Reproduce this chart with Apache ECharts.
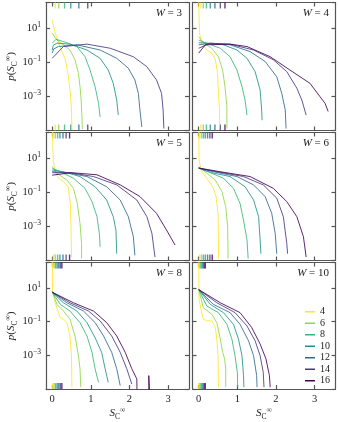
<!DOCTYPE html>
<html>
<head>
<meta charset="utf-8">
<script src="https://cdn.jsdelivr.net/npm/echarts@6/dist/echarts.min.js"></script>
<style>
html, body { margin: 0; padding: 0; background: #fff; }
#chart { width: 338px; height: 422px; }
</style>
</head>
<body>
<div id="chart"></div>
<script>
// system sizes (legend) and disorder strengths (one panel each)
var sizes = ['4', '6', '8', '10', '12', '14', '16'];
var disorder = [3, 4, 5, 6, 8, 10];
var xTicks = [0, 1, 2, 3];
var colors = ['#fde725', '#90d743', '#35b779', '#21918c', '#31688e', '#443983', '#440154'];

// p(S) curves, [S, p] per size
var w3 = [
    [[0, 31], [0.08, 5.1], [0.2, 0.83], [0.34, 0.14], [0.42, 0.014], [0.47, 0.0015], [0.5, 0.00016], [0.51, 0.000012]],
    [[0, 5.1], [0.12, 2.0], [0.29, 1.05], [0.46, 0.52], [0.59, 0.14], [0.68, 0.022], [0.72, 0.0037], [0.75, 0.00063], [0.77, 0.000063], [0.78, 0.000012]],
    [[0, 1.3], [0.1, 2.2], [0.38, 1.4], [0.64, 0.83], [0.85, 0.21], [0.98, 0.035], [1.11, 0.0037], [1.2, 0.00039], [1.24, 0.000063]],
    [[0, 0.52], [0.03, 1.0], [0.12, 1.3], [0.46, 1.15], [0.9, 0.52], [1.24, 0.17], [1.45, 0.035], [1.58, 0.0058], [1.67, 0.0006], [1.71, 0.00008]],
    [[0, 0.34], [0.04, 0.6], [0.16, 0.83], [0.64, 1.05], [1.24, 0.52], [1.67, 0.17], [1.97, 0.045], [2.14, 0.0091], [2.23, 0.0015], [2.27, 0.00016], [2.32, 0.000016]],
    [[0, 0.17], [0.29, 0.83], [0.9, 1.15], [1.5, 0.66], [2.1, 0.21], [2.45, 0.055], [2.7, 0.0091], [2.83, 0.0015], [2.87, 0.00016], [2.89, 0.000013]],
    null
];
var w4 = [
    [[0, 500], [0.02, 5.1], [0.08, 1.3], [0.21, 0.52], [0.34, 0.34], [0.43, 0.14], [0.49, 0.022], [0.51, 0.0015], [0.54, 0.00016], [0.54, 0.000016]],
    [[0, 3.2], [0.12, 1.4], [0.34, 0.66], [0.51, 0.21], [0.62, 0.035], [0.68, 0.0037], [0.73, 0.00025], [0.73, 0.000013]],
    [[0, 2.0], [0.21, 1.3], [0.56, 0.66], [0.81, 0.21], [0.99, 0.035], [1.12, 0.0037], [1.2, 0.0006], [1.25, 0.00008]],
    [[0, 1.4], [0.25, 1.3], [0.64, 1.05], [0.99, 0.52], [1.25, 0.17], [1.46, 0.028], [1.59, 0.0023], [1.63, 0.00016], [1.64, 0.00004]],
    [[0, 1.05], [0.3, 1.3], [0.81, 1.05], [1.33, 0.42], [1.72, 0.11], [2.02, 0.014], [2.15, 0.0015], [2.24, 0.00016], [2.26, 0.000013]],
    [[0, 0.66], [0.3, 1.3], [0.81, 1.15], [1.42, 0.52], [1.93, 0.14], [2.28, 0.028], [2.54, 0.003], [2.67, 0.0006], [2.78, 0.00008]],
    [[0, 0.34], [0.17, 1.05], [0.81, 1.15], [1.25, 0.83], [1.85, 0.21], [2.36, 0.035], [2.88, 0.0058], [3.14, 0.00095], [3.27, 0.00039], [3.35, 0.00013]]
];
var w5 = [
    [[0, 1000], [0.03, 6.3], [0.08, 1.6], [0.16, 0.66], [0.29, 0.42], [0.41, 0.21], [0.47, 0.022], [0.49, 0.0006], [0.5, 0.000016]],
    [[0, 3.2], [0.12, 1.3], [0.38, 0.52], [0.55, 0.17], [0.65, 0.022], [0.72, 0.0015], [0.76, 0.0001], [0.76, 0.000013]],
    [[0, 2.6], [0.21, 1.6], [0.55, 0.66], [0.85, 0.17], [1.03, 0.028], [1.16, 0.0037], [1.22, 0.00039], [1.24, 0.000063]],
    [[0, 2.0], [0.29, 1.6], [0.72, 0.83], [1.11, 0.21], [1.41, 0.035], [1.58, 0.0037], [1.65, 0.0006], [1.67, 0.000025]],
    [[0, 1.6], [0.38, 1.4], [0.9, 0.83], [1.41, 0.21], [1.76, 0.035], [1.97, 0.0037], [2.1, 0.00025], [2.14, 0.00002]],
    [[0, 1.4], [0.46, 1.4], [1.07, 0.83], [1.67, 0.27], [2.19, 0.035], [2.45, 0.0037], [2.58, 0.00039], [2.66, 0.000016]],
    [[0, 1.0], [0.5, 1.4], [1.16, 1.05], [1.76, 0.27], [2.27, 0.056], [2.7, 0.0058], [2.96, 0.0006], [3.18, 0.00008]]
];
var w6 = [
    [[0, 1000], [0.01, 7.9], [0.06, 2.0], [0.17, 0.83], [0.3, 0.34], [0.38, 0.17], [0.45, 0.055], [0.5, 0.0058], [0.51, 0.00025], [0.51, 0.000013]],
    [[0, 3.2], [0.21, 1.3], [0.43, 0.52], [0.6, 0.11], [0.7, 0.014], [0.75, 0.00095], [0.76, 0.000013]],
    [[0, 2.6], [0.3, 1.4], [0.64, 0.66], [0.9, 0.17], [1.07, 0.022], [1.16, 0.0023], [1.25, 0.00016], [1.28, 0.000013]],
    [[0, 2.6], [0.34, 1.4], [0.81, 0.83], [1.2, 0.21], [1.42, 0.035], [1.55, 0.0037], [1.59, 0.00016], [1.61, 0.000025]],
    [[0, 2.6], [0.38, 1.6], [0.99, 0.83], [1.42, 0.27], [1.72, 0.055], [1.89, 0.0058], [1.98, 0.00039], [2.02, 0.000025]],
    [[0, 2.6], [0.47, 1.6], [1.16, 0.83], [1.67, 0.27], [2.02, 0.045], [2.19, 0.0037], [2.28, 0.0001], [2.3, 0.000025]],
    [[0, 2.6], [0.55, 1.6], [1.33, 0.83], [1.93, 0.17], [2.28, 0.028], [2.54, 0.0037], [2.71, 0.00025], [2.78, 0.000016]]
];
var w8 = [
    [[0, 1000], [0.01, 7.9], [0.08, 1.3], [0.16, 0.34], [0.21, 0.17], [0.29, 0.14], [0.38, 0.087], [0.46, 0.014], [0.5, 0.00095], [0.51, 0.000013]],
    [[0, 6.3], [0.12, 1.05], [0.29, 0.42], [0.46, 0.14], [0.59, 0.014], [0.68, 0.00095], [0.72, 0.00016], [0.74, 0.000013]],
    [[0, 5.5], [0.21, 1.05], [0.46, 0.42], [0.72, 0.087], [0.9, 0.014], [1.03, 0.0015], [1.11, 0.00016], [1.2, 0.000025]],
    [[0, 5.5], [0.29, 1.3], [0.64, 0.42], [0.9, 0.087], [1.11, 0.011], [1.28, 0.0015], [1.37, 0.00016], [1.45, 0.000025]],
    [[0, 5.5], [0.38, 1.3], [0.81, 0.42], [1.11, 0.087], [1.33, 0.014], [1.54, 0.0015], [1.67, 0.00016], [1.76, 0.000016]],
    [[0, 5.5], [0.46, 1.3], [0.94, 0.42], [1.24, 0.11], [1.54, 0.014], [1.76, 0.0015], [1.93, 0.00016], [2.06, 0.00002]],
    [[0, 5.5], [0.55, 1.3], [1.07, 0.42], [1.41, 0.087], [1.67, 0.014], [1.89, 0.0015], [2.06, 0.00016], [2.19, 0.00004],
     [2.2, 0.000001], [2.5, 0.000001], [2.5, 0.000063], [2.54, 0.000063], [2.54, 0.000001]]
];
var w10 = [
    [[0, 1000], [0.01, 2.0], [0.06, 0.52], [0.12, 0.14], [0.21, 0.11], [0.34, 0.11], [0.43, 0.045], [0.47, 0.0091], [0.5, 0.00095], [0.51, 0.000013]],
    [[0, 7.9], [0.12, 0.66], [0.34, 0.27], [0.47, 0.087], [0.56, 0.0091], [0.62, 0.0015], [0.67, 0.00063], [0.7, 0.00016], [0.7, 0.000013]],
    [[0, 7.9], [0.21, 0.83], [0.51, 0.34], [0.73, 0.069], [0.86, 0.0091], [0.94, 0.00095], [1.0, 0.0001], [1.01, 0.000013]],
    [[0, 7.9], [0.3, 1.05], [0.64, 0.34], [0.9, 0.069], [1.03, 0.0091], [1.12, 0.00095], [1.16, 0.000063], [1.17, 0.000013]],
    [[0, 7.9], [0.38, 1.05], [0.81, 0.34], [1.07, 0.069], [1.29, 0.0072], [1.42, 0.00095], [1.5, 0.000063], [1.51, 0.000013]],
    [[0, 7.9], [0.47, 1.3], [0.94, 0.34], [1.25, 0.055], [1.46, 0.0072], [1.59, 0.00095], [1.67, 0.0001], [1.69, 0.000013]],
    [[0, 7.9], [0.56, 1.3], [1.07, 0.34], [1.37, 0.045], [1.59, 0.0047], [1.74, 0.00063], [1.83, 0.000063], [1.85, 0.000013]]
];

// rug marks (top and bottom of each panel), one per size
var rugW3 = [0.08, 0.17, 0.32, 0.48, 0.69, 0.92, null];
var rugW4 = [0.06, 0.12, 0.2, 0.3, 0.42, 0.56, 0.68];
var rugW5 = [0.03, 0.08, 0.14, 0.2, 0.28, 0.36, 0.45];
var rugW6 = [0.02, 0.07, 0.12, 0.17, 0.23, 0.29, 0.35];
var rugW8 = [0.01, 0.05, 0.09, 0.13, 0.17, 0.21, 0.25];
var rugW10 = [0.0, 0.03, 0.06, 0.09, 0.12, 0.15, 0.17];

var panels = [w3, w4, w5, w6, w8, w10];
var rugs = [rugW3, rugW4, rugW5, rugW6, rugW8, rugW10];

var serif = 'Liberation Serif';
var ink = '#222';
var frame = { color: '#555', width: 1.2 };
var xMin = -0.16, xMax = 3.54;
var yMin = 1e-5, yMax = Math.pow(10, 2.5);
var cols = [46, 192.5], rows = [2.5, 132.5, 262.5];
var gw = 143, gh = 128;

var nameRich = {
    i: { fontFamily: serif, fontStyle: 'italic', fontSize: 11, lineHeight: 15, color: ink },
    r: { fontFamily: serif, fontSize: 11, lineHeight: 15, color: ink },
    sub: { fontFamily: serif, fontSize: 7.5, lineHeight: 8, verticalAlign: 'bottom', color: ink },
    sup: { fontFamily: serif, fontSize: 7.5, lineHeight: 8, verticalAlign: 'top', color: ink }
};

function logLabel(v) {
    var l = Math.log10(v), e = Math.round(l);
    if (Math.abs(l - e) > 0.01 || e <= -5 || e >= 2) return '';
    return '{b|10}{s|' + (e < 0 ? '\u2212' : '') + Math.abs(e) + '}';
}

var grids = [], xAxes = [], yAxes = [], series = [], titles = [];

panels.forEach(function (curves, k) {
    var col = k % 2, row = Math.floor(k / 2);
    grids.push({ left: cols[col], top: rows[row], width: gw, height: gh, containLabel: false });

    ['bottom', 'top'].forEach(function (pos) {
        var main = pos === 'bottom';
        xAxes.push({
            type: 'value', gridIndex: k, position: pos, min: xMin, max: xMax,
            axisLine: { show: true, onZero: false, lineStyle: frame },
            axisTick: { show: true, inside: true, length: 4, customValues: xTicks, lineStyle: frame },
            axisLabel: { show: main && row === 2, customValues: xTicks, fontFamily: serif, fontSize: 10.5, color: ink, margin: 5 },
            splitLine: { show: false },
            name: main && row === 2 ? '{i|S}{sub|C}{sup|\u221e}' : '',
            nameLocation: 'middle', nameGap: 15,
            nameTextStyle: { rich: nameRich }
        });
    });
    ['left', 'right'].forEach(function (pos) {
        var main = pos === 'left';
        yAxes.push({
            type: 'log', gridIndex: k, position: pos, min: yMin, max: yMax, interval: 2,
            axisLine: { show: true, onZero: false, lineStyle: frame },
            axisTick: { show: true, inside: true, length: 4, lineStyle: frame },
            axisLabel: {
                show: main && col === 0, formatter: logLabel, margin: 5,
                rich: {
                    b: { fontFamily: serif, fontSize: 10.5, lineHeight: 14, color: ink },
                    s: { fontFamily: serif, fontSize: 7.5, lineHeight: 8, verticalAlign: 'top', color: ink }
                }
            },
            splitLine: { show: false },
            name: main && col === 0 ? '{i|p}{r|(}{i|S}{sub|C}{sup|\u221e}{r|)}' : '',
            nameLocation: 'middle', nameGap: 24,
            nameTextStyle: { rich: nameRich }
        });
    });

    curves.forEach(function (pts, j) {
        if (!pts) return;
        series.push({
            type: 'line', name: sizes[j], xAxisIndex: 2 * k, yAxisIndex: 2 * k,
            data: pts, showSymbol: false, symbol: 'none', silent: true, animation: false,
            lineStyle: { width: 1, color: colors[j], opacity: 0.85 }, itemStyle: { color: colors[j] }
        });
    });

    var rugData = [];
    rugs[k].forEach(function (x, j) {
        if (x == null) return;
        rugData.push({ value: [x, yMax], symbolOffset: [0, 3], itemStyle: { color: colors[j] } });
        rugData.push({ value: [x, yMin], symbolOffset: [0, -3], itemStyle: { color: colors[j] } });
    });
    series.push({
        type: 'scatter', name: 'rug', xAxisIndex: 2 * k, yAxisIndex: 2 * k,
        data: rugData, symbol: 'rect', symbolSize: [1.4, 6], clip: false, silent: true, animation: false
    });

    titles.push({
        text: '{i|W} = ' + disorder[k],
        right: col === 0 ? 156 : 9, top: rows[row] + 5, padding: 0,
        textStyle: {
            fontFamily: serif, fontSize: 11, fontWeight: 'normal', color: ink,
            rich: { i: { fontFamily: serif, fontStyle: 'italic', fontSize: 11, color: ink } }
        }
    });
});

var chart = echarts.init(document.getElementById('chart'), null, { renderer: 'canvas' });
chart.setOption({
    animation: false,
    backgroundColor: '#fff',
    title: titles,
    grid: grids,
    xAxis: xAxes,
    yAxis: yAxes,
    legend: {
        data: sizes, orient: 'vertical', left: 300, top: 301,
        icon: 'rect', itemWidth: 10, itemHeight: 1.5, itemGap: 0,
        selectedMode: false,
        textStyle: { fontFamily: serif, fontSize: 10, color: ink, lineHeight: 11.5 }
    },
    series: series
});
</script>
</body>
</html>
